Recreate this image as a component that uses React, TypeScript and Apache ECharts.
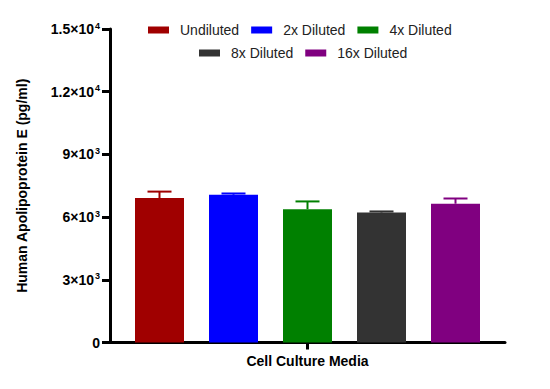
import React, { useEffect, useRef } from "react";
import * as echarts from "echarts";

const categories = ["Cell Culture Media"];
const seriesNames = ["Undiluted", "2x Diluted", "4x Diluted", "8x Diluted", "16x Diluted"];
const means = [6910, 7070, 6380, 6220, 6640];
const errors = [310, 60, 370, 50, 250];
const colors = ["#A00000", "#0000FF", "#008000", "#333333", "#800080"];
const yTicks = [0, 3000, 6000, 9000, 12000, 15000];

const BAR_W = 49;
const GAP = 25;
const FONT = "Liberation Sans, Arial";

function fmt(v: number): string {
  if (v === 0) return "{a|0}";
  const e = Math.floor(Math.log10(v) + 1e-9);
  const m = Math.round((v / Math.pow(10, e)) * 10) / 10;
  return `{a|${m}×10}{s|${e}}`;
}

export default function App() {
  const ref = useRef<HTMLDivElement>(null);
  useEffect(() => {
    if (!ref.current) return;
    const chart = echarts.init(ref.current, undefined, { renderer: "svg" });
    const n = seriesNames.length;
    const bars = seriesNames.map((name, i) => ({
      name,
      type: "bar",
      data: [means[i]],
      barWidth: BAR_W,
      barGap: `${(GAP / BAR_W) * 100}%`,
      itemStyle: { color: colors[i] },
      z: 2,
    }));
    const errSeries = seriesNames.map((name, i) => ({
      name: name + " err",
      type: "custom",
      data: [[0, means[i], means[i] + errors[i]]],
      z: 3,
      renderItem: (params: any, api: any) => {
        const base = api.coord([api.value(0), api.value(1)]);
        const top = api.coord([api.value(0), api.value(2)]);
        const off = (i - (n - 1) / 2) * (BAR_W + GAP);
        const x = base[0] + off;
        const style = { stroke: colors[i], lineWidth: 2 };
        return {
          type: "group",
          children: [
            { type: "line", shape: { x1: x, y1: base[1], x2: x, y2: top[1] }, style },
            { type: "line", shape: { x1: x - 12, y1: top[1], x2: x + 12, y2: top[1] }, style },
          ],
        };
      },
    }));
    const legendCommon = {
      itemWidth: 21,
      itemHeight: 7,
      itemGap: 12,
      icon: "rect",
      padding: 0,
      textStyle: { fontFamily: FONT, fontSize: 14, color: "#222", padding: [0, 0, 0, 6] },
    };
    chart.setOption({
      animation: false,
      legend: [
        { ...legendCommon, data: seriesNames.slice(0, 3), left: 148, top: 23 },
        { ...legendCommon, data: seriesNames.slice(3), left: 199, top: 46 },
      ],
      grid: { left: 110, right: 45, top: 29, bottom: 46.5, containLabel: false },
      xAxis: {
        type: "category",
        data: categories,
        axisLine: { lineStyle: { color: "#000", width: 3 } },
        axisTick: { show: true, length: 7, lineStyle: { color: "#000", width: 3 }, alignWithLabel: true },
        axisLabel: { color: "#000", fontWeight: "bold", fontSize: 14, fontFamily: FONT, margin: 11 },
      },
      yAxis: {
        type: "value",
        min: 0,
        max: 15000,
        interval: 3000,
        name: "Human Apolipoprotein E (pg/ml)",
        nameLocation: "middle",
        nameGap: 81,
        nameRotate: 90,
        nameTextStyle: { color: "#000", fontWeight: "bold", fontSize: 14, fontFamily: FONT },
        splitLine: { show: false },
        axisLine: { show: true, lineStyle: { color: "#000", width: 3 } },
        axisTick: { show: true, length: 8, lineStyle: { color: "#000", width: 3 } },
        axisLabel: {
          margin: 10,
          formatter: (v: number) => (yTicks.includes(v) ? fmt(v) : ""),
          rich: {
            a: { color: "#000", fontWeight: "bold", fontSize: 14, fontFamily: FONT },
            s: { color: "#000", fontWeight: "bold", fontSize: 9, fontFamily: FONT, padding: [0, 0, 7, 1] },
          },
        },
      },
      series: [...bars, ...errSeries],
    });
    return () => chart.dispose();
  }, []);
  return <div ref={ref} style={{ width: 550, height: 389, margin: -8 }} />;
}
